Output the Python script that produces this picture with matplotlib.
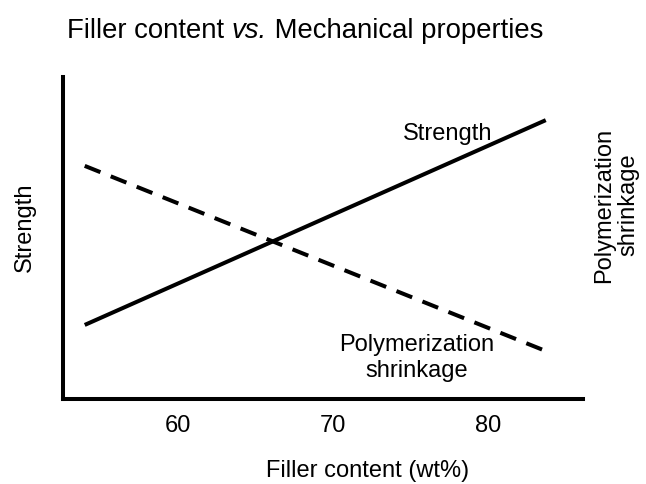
import matplotlib
matplotlib.use("Agg")
import matplotlib.pyplot as plt

plt.rcParams['font.family'] = ['Liberation Sans', 'DejaVu Sans']

filler = [54.0, 83.7]
strength = [23.0, 86.6]
shrinkage = [72.4, 14.9]
xticks = [60, 70, 80]

W, H = 646, 485
fig = plt.figure(figsize=(W/100, H/100), dpi=100)
ax = fig.add_axes([63/W, 1-400/H, (583-63)/W, (400-78)/H])

ax.plot(filler, strength, color='black', lw=2.9, solid_capstyle='butt')
ax.plot(filler, shrinkage, color='black', lw=2.9, dashes=(4.2, 2.75),
        dash_capstyle='butt')

ax.set_xlim(52.6, 86.1)
ax.set_ylim(0, 100)
ax.set_xticks(xticks)
ax.set_xticklabels([str(t) for t in xticks])
ax.set_yticks([])
ax.tick_params(axis='x', length=0, pad=11, labelsize=17)
for s in ['top', 'right']:
    ax.spines[s].set_visible(False)
for s in ['left', 'bottom']:
    ax.spines[s].set_linewidth(2.9)


def px(x, y):
    return x / W, 1 - y / H


fig.text(*px(368, 477), 'Filler content (wt%)', fontsize=17,
         ha='center', va='baseline')
fig.text(*px(25, 227), 'Strength', fontsize=17, rotation=90,
         ha='center', va='center')

t1 = fig.text(*px(67, 38), 'Filler content ', fontsize=19.8,
              ha='left', va='baseline')
t2 = fig.text(0, 0, 'vs.', fontsize=19.8, style='italic',
              ha='left', va='baseline')
t3 = fig.text(0, 0, ' Mechanical properties', fontsize=19.8,
              ha='left', va='baseline')
fig.canvas.draw()
r = fig.canvas.get_renderer()
bb1 = t1.get_window_extent(r)
t2.set_position(((bb1.x1) / W, 1 - 38 / H))
fig.canvas.draw()
bb2 = t2.get_window_extent(r)
t3.set_position(((bb2.x1) / W, 1 - 38 / H))

fig.text(*px(448, 140), 'Strength', fontsize=17, ha='center', va='baseline')
fig.text(*px(616, 205), 'Polymerization\nshrinkage', rotation=90,
         fontsize=17, ha='center', va='center', linespacing=1.15)
fig.text(*px(417, 358), 'Polymerization\nshrinkage', fontsize=17,
         ha='center', va='center', linespacing=1.2)

fig.savefig('out.png', dpi=100)
